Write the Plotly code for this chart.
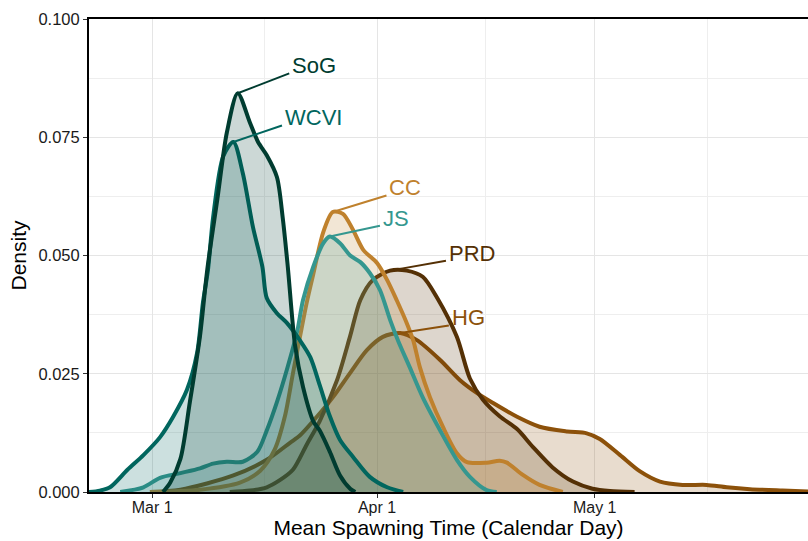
import plotly.graph_objects as go

# ---------------- data (day of year, density) ----------------
series_names = ["HG", "PRD", "CC", "JS", "WCVI", "SoG"]

hg_day = [59.7, 63.9, 71.2, 75.8, 79.0, 80.4, 82.7, 84.9, 87.3, 89.6, 91.8, 94.2, 96.5, 99.7,
          102.4, 104.8, 107.0, 110.3, 113.4, 117.2, 119.9, 121.7, 124.5, 127.2, 130.0, 133.1,
          136.4, 139.2, 142.4, 146.9, 150.4]
hg_density = [0.0, 0.0005, 0.0035, 0.0068, 0.0104, 0.012, 0.0159, 0.020, 0.0252, 0.030, 0.0328,
              0.0336, 0.0321, 0.0279, 0.0237, 0.0209, 0.0188, 0.0159, 0.0138, 0.0128, 0.0124,
              0.0112, 0.0078, 0.0044, 0.0022, 0.0015, 0.0015, 0.001, 0.0006, 0.0003, 0.0001]

prd_day = [70.7, 73.5, 75.8, 77.6, 79.4, 81.3, 83.1, 85.5, 87.3, 88.7, 90.4, 92.8, 95.1, 97.3,
           99.3, 102.0, 103.8, 105.6, 107.9, 110.3, 112.5, 115.2, 118.0, 120.7, 123.1, 126.5]
prd_density = [0.0, 0.0003, 0.001, 0.0025, 0.0047, 0.010, 0.015, 0.0237, 0.033, 0.0406, 0.0448,
               0.0468, 0.0468, 0.0455, 0.041, 0.0328, 0.024, 0.0195, 0.016, 0.0133, 0.0095,
               0.0052, 0.0022, 0.0007, 0.0002, 0.0]

cc_day = [59.7, 66.6, 72.1, 74.9, 76.9, 78.3, 79.4, 80.4, 81.3, 82.2, 83.6, 84.9, 86.3, 87.7,
          89.1, 91.0, 92.4, 93.7, 95.1, 96.0, 96.9, 98.3, 100.1, 102.0, 103.4, 106.1, 107.9,
          108.9, 111.1, 113.4, 116.6]
cc_density = [0.0, 0.0005, 0.002, 0.0045, 0.009, 0.016, 0.025, 0.033, 0.040, 0.046, 0.055, 0.0592,
              0.0588, 0.0554, 0.0512, 0.0484, 0.0448, 0.0406, 0.0357, 0.032, 0.0264, 0.020,
              0.0137, 0.0082, 0.0063, 0.0062, 0.0066, 0.0062, 0.0036, 0.0015, 0.0]

js_day = [55.6, 58.8, 61.1, 63.9, 66.6, 68.4, 70.3, 72.5, 74.5, 75.8, 77.2, 78.6, 80.0, 80.8,
          82.2, 83.6, 84.5, 85.9, 87.3, 88.7, 90.0, 91.4, 92.8, 93.9, 95.5, 97.3, 99.7, 102.0,
          103.8, 106.1, 107.5]
js_density = [0.0, 0.001, 0.003, 0.004, 0.005, 0.006, 0.0064, 0.0064, 0.0085, 0.013, 0.019, 0.026,
              0.034, 0.0406, 0.0476, 0.0526, 0.054, 0.0526, 0.050, 0.0486, 0.0463, 0.0427, 0.0364,
              0.032, 0.0264, 0.020, 0.013, 0.0068, 0.0032, 0.0004, 0.0]

wcvi_day = [51.3, 52.8, 54.2, 56.6, 58.8, 61.1, 62.9, 64.8, 66.2, 67.0, 67.7, 68.4, 69.8, 71.2,
            72.5, 73.9, 75.2, 75.8, 77.2, 78.6, 80.4, 81.8, 83.1, 84.5, 85.9, 87.7, 90.0, 92.4,
            94.6]
wcvi_density = [0.0, 0.0003, 0.001, 0.0047, 0.0078, 0.0116, 0.0159, 0.0216, 0.0294, 0.040, 0.047,
                0.058, 0.071, 0.074, 0.0674, 0.056, 0.0476, 0.041, 0.0378, 0.0357, 0.032, 0.0285,
                0.0226, 0.016, 0.011, 0.0074, 0.0032, 0.001, 0.0]

sog_day = [61.5, 62.5, 63.9, 65.2, 66.6, 67.6, 69.0, 70.3, 71.8, 73.5, 74.6, 75.8, 77.2, 78.0,
           78.7, 79.7, 80.8, 82.2, 83.1, 84.5, 85.9, 87.3, 88.0]
sog_density = [0.0, 0.002, 0.007, 0.019, 0.033, 0.047, 0.062, 0.076, 0.0843, 0.078, 0.074, 0.0712,
               0.0666, 0.058, 0.0476, 0.031, 0.0222, 0.015, 0.013, 0.0085, 0.0035, 0.0007, 0.0]

tick_days = [60, 91, 121]
tick_labels = ["Mar 1", "Apr 1", "May 1"]
minor_days = [75.5, 106, 136.5]

# label placement (text left edge, text middle)
label_day = {"SoG": 79.0, "WCVI": 78.0, "CC": 92.4, "JS": 91.5, "PRD": 100.6, "HG": 101.0}
label_density = {"SoG": 0.0901, "WCVI": 0.0791, "CC": 0.0643, "JS": 0.0579, "PRD": 0.0505, "HG": 0.0368}

colors = {"PRD": "#543005", "HG": "#8C510A", "CC": "#BF812D",
          "JS": "#35978F", "WCVI": "#01665E", "SoG": "#003C30"}

data = {
    "HG": (hg_day, hg_density),
    "PRD": (prd_day, prd_density),
    "CC": (cc_day, cc_density),
    "JS": (js_day, js_density),
    "WCVI": (wcvi_day, wcvi_density),
    "SoG": (sog_day, sog_density),
}


def rgba(hex_color, a):
    h = hex_color.lstrip("#")
    r, g, b = int(h[0:2], 16), int(h[2:4], 16), int(h[4:6], 16)
    return f"rgba({r},{g},{b},{a})"


FONT = "Liberation Sans, Arial, sans-serif"
fig = go.Figure()

for name in series_names:
    xs, ys = data[name]
    c = colors[name]
    fig.add_trace(go.Scatter(
        x=xs, y=ys, mode="lines", fill="tozeroy",
        fillcolor=rgba(c, 0.2),
        line=dict(color=c, width=4, shape="spline", smoothing=0.8),
        showlegend=False, hoverinfo="skip", name=name))

# leader lines and labels
for name in series_names:
    xs, ys = data[name]
    c = colors[name]
    i = max(range(len(ys)), key=lambda k: ys[k])
    px, py = xs[i], ys[i]
    lx, ly = label_day[name], label_density[name]
    fig.add_trace(go.Scatter(
        x=[px, lx - 0.1], y=[py, ly - 0.0016], mode="lines",
        line=dict(color=c, width=2), showlegend=False, hoverinfo="skip"))
    fig.add_annotation(x=lx, y=ly, text=name, showarrow=False,
                       xanchor="left", yanchor="middle",
                       font=dict(family=FONT, size=22, color=c))

fig.update_layout(
    width=808, height=541,
    margin=dict(l=89, r=0, t=19, b=49),
    plot_bgcolor="white", paper_bgcolor="white",
    font=dict(family=FONT, color="#1a1a1a"),
)

fig.update_xaxes(
    range=[51.3, 150.4], automargin=False,
    tickmode="array", tickvals=tick_days, ticktext=tick_labels,
    tickfont=dict(size=16, color="#1a1a1a"),
    ticks="outside", ticklen=4, tickcolor="#333333", tickwidth=1,
    ticklabelstandoff=-4,
    showgrid=True, gridcolor="#E5E5E5", gridwidth=1,
    minor=dict(tickmode="array", tickvals=minor_days, showgrid=True,
               gridcolor="#EEEEEE", gridwidth=1),
    showline=True, linecolor="black", linewidth=2, mirror=True,
    zeroline=False,
    title=dict(text="Mean Spawning Time (Calendar Day)",
               font=dict(size=21, color="black"), standoff=0),
)

fig.update_yaxes(
    range=[0, 0.1], dtick=0.025, tick0=0, tickformat=".3f", automargin=False,
    tickfont=dict(size=16.5, color="#1a1a1a"),
    ticks="outside", ticklen=4, tickcolor="#333333", tickwidth=1,
    showgrid=True, gridcolor="#E5E5E5", gridwidth=1,
    minor=dict(dtick=0.0125, tick0=0, showgrid=True, gridcolor="#EEEEEE", gridwidth=1),
    showline=True, linecolor="black", linewidth=2, mirror=True,
    zeroline=False,
    title=dict(text="Density", font=dict(size=21, color="black"), standoff=6),
)

fig.write_html(
    "out.html",
    config={"displayModeBar": False},
    post_script="document.body.style.margin='0';document.body.style.overflow='hidden';",
)
